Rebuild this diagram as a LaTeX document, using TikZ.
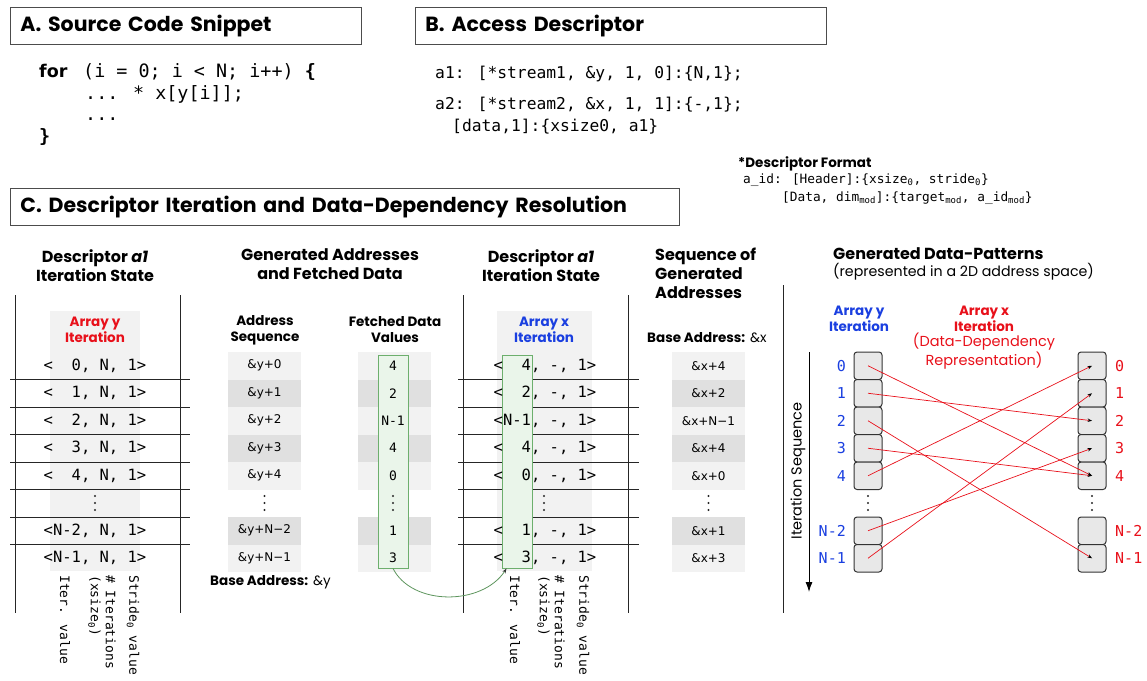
\documentclass[tikz,border=0pt]{standalone}
\usepackage{fontspec}
\setmainfont{Poppins}
\newfontfamily\mono{DejaVu Sans Mono}
\newfontfamily\dvs{DejaVu Sans}
\usetikzlibrary{arrows.meta}
\definecolor{lt}{HTML}{F2F2F2}
\definecolor{dk}{HTML}{E0E0E0}
\definecolor{gfill}{HTML}{EAF5EA}
\definecolor{gline}{HTML}{6DAF6D}
\definecolor{myred}{HTML}{E8101A}
\definecolor{myblue}{HTML}{1A3FE0}
\definecolor{cellg}{HTML}{E8E8E8}
\newcommand\fs[2]{\fontsize{#1}{#2}\selectfont}

\begin{document}
\begin{tikzpicture}[x=1pt,y=-1pt,
  titlebox/.style={draw=black!70, line width=0.8pt, fill=white, anchor=north west,
    minimum height=37pt, align=left, inner xsep=10pt, inner ysep=0pt,
    font={\fs{20.5}{23}\bfseries}},
  code/.style={font={\mono\fs{18.4}{21}}, inner sep=0, anchor=base west},
  desc/.style={font={\mono\fs{16.3}{19}}, inner sep=0, anchor=base west},
  fmt/.style={font={\mono\fs{12.8}{15}}, inner sep=0, anchor=base west},
  hd/.style={font={\fs{16}{19}\bfseries}, align=center, inner sep=0},
  sub/.style={font={\fs{13.5}{16}\bfseries}, align=center, inner sep=0},
  rowtxt/.style={font={\mono\fs{15.5}{18}}, inner sep=0},
  rot/.style={font={\mono\fs{13}{15}}, rotate=-90, anchor=west, inner sep=0, align=left},
  addr/.style={font={\dvs\fs{12}{14}}, minimum width=73pt, minimum height=27.5pt, inner sep=0},
  fetch/.style={font={\mono\fs{13}{15}}, minimum width=73pt, minimum height=27.5pt, inner sep=0},
  vdt/.pic={\foreach \d in {-7,0,7} \fill[black!85] (0,\d) circle (1.2);},
  tline/.style={draw=black!85, line width=0.9pt},
  greenbox/.style={draw=gline, line width=0.9pt, fill=gfill, minimum width=30pt, inner sep=0},
  pcell/.style={draw=black!80, line width=1pt, fill=cellg, rounded corners=3pt,
    minimum width=28pt, minimum height=27.5pt, inner sep=0},
  lab/.style={font={\mono\fs{15}{17}}, inner sep=0},
  dep/.style={draw=myred, line width=0.7pt, -{Stealth[length=4.5pt,width=3.5pt,color=black]}}
]
\path[use as bounding box] (0,0) rectangle (1147,680);

% ---------- A: source code ----------
\node[titlebox, minimum width=351pt, text width=331pt] (tA) at (10,7) {A. Source Code Snippet};
\node[code, font={\dvs\bfseries\fs{17.5}{20}}] (kfor) at (39,77) {for};
\node[code] (c1) at (83,77) {(i = 0; i < N; i++) \textbf{\{}};
\node[code] (c2) at (85,99) {... * x[y[i]];};
\node[code] (c3) at (85,120) {...};
\node[code] (c4) at (39,142) {\textbf{\}}};

% ---------- B: access descriptor ----------
\node[titlebox, minimum width=411pt, text width=391pt] (tB) at (415,7) {B. Access Descriptor};
\node[desc] (d1) at (435,78) {a1: [*stream1, \&y, 1, 0]:\{N,1\};};
\node[desc] (d2) at (435,109) {a2: [*stream2, \&x, 1, 1]:\{-,1\};};
\node[desc] (d3) at (452,131) {[data,1]:\{xsize0, a1\}};

\node[inner sep=0, anchor=base west, font={\fs{13.5}{16}\bfseries}] (fmth) at (738,167) {*Descriptor Format};
\node[fmt] (fmt1) at (743,183) {a\_id: [Header]:\{xsize\textsubscript{0}, stride\textsubscript{0}\}};
\node[fmt] (fmt2) at (782,201) {[Data, dim\textsubscript{mod}]:\{target\textsubscript{mod}, a\_id\textsubscript{mod}\}};

% ---------- C: iteration ----------
\node[titlebox, minimum width=669pt, text width=649pt] (tC) at (10,188) {C. Descriptor Iteration and Data-Dependency Resolution};

\node[hd] (h1) at (95,266) {Descriptor \textit{a1}\\Iteration State};
\node[hd] (h2) at (330,264) {Generated Addresses\\and Fetched Data};
\node[hd] (h3) at (541,266) {Descriptor \textit{a1}\\Iteration State};
\node[hd, align=left, anchor=west] (h4) at (655,273) {Sequence of\\Generated\\Addresses};
\node[hd, anchor=west] (h5) at (833,254) {Generated Data-Patterns};
\node[inner sep=0, anchor=west, font={\fs{14.2}{16}}] (h5s) at (833,272) {(represented in a 2D address space)};

% shaded columns of the two state tables
\fill[lt] (50,311) rectangle (140,571);
\fill[lt] (497,311) rectangle (592,571);

% address / data / address cells
\foreach \i/\t/\c in {0/{\&y+0}/lt,1/{\&y+1}/dk,2/{\&y+2}/lt,3/{\&y+3}/dk,4/{\&y+4}/lt,6/{\&y+N−2}/dk,7/{\&y+N−1}/lt}
  \node[addr, fill=\c] (ya\i) at (264.5,{365.75+27.5*\i}) {\t};
\foreach \i/\c in {0/lt,1/dk,2/lt,3/dk,4/lt,6/dk,7/lt}
  \fill[\c] (358,{352+27.5*\i}) rectangle (431,{379.5+27.5*\i});
\foreach \i/\t/\c in {0/{\&x+4}/lt,1/{\&x+2}/dk,2/{\&x+N−1}/lt,3/{\&x+4}/dk,4/{\&x+0}/lt,6/{\&x+1}/dk,7/{\&x+3}/lt}
  \node[addr, fill=\c] (xa\i) at (708.5,{365.75+27.5*\i}) {\t};
\pic at (264.5,503) {vdt};
\pic at (708.5,503) {vdt};

% table rules
\foreach \yy in {379.5,407,434.5,462,489.5,517,544.5} {
  \draw[tline] (10,\yy) -- (190,\yy);
  \draw[tline] (458,\yy) -- (639,\yy);
}
\draw[tline] (15,295) -- (15,613);
\draw[tline] (180,295) -- (180,613);
\draw[tline] (463,295) -- (463,613);
\draw[tline] (628,295) -- (628,613);

% highlighted data columns
\node[greenbox, minimum height=213pt] (fbox) at (393,461.5) {};
\node[greenbox, minimum height=213pt] (ibox) at (517,461.5) {};

% sub headers
\node[sub, text=myred] (ay1) at (95,330) {Array y\\Iteration};
\node[sub] (asq) at (265,330) {Address\\Sequence};
\node[sub] (fdv) at (395,330) {Fetched Data\\Values};
\node[sub, text=myblue] (ax1) at (544,330) {Array x\\Iteration};
\node[inner sep=0, anchor=west, font={\fs{13.5}{15}}] (basex) at (647,338) {\textbf{Base Address:} \&x};
\node[inner sep=0, anchor=west, font={\fs{13.5}{15}}] (basey) at (210,582) {\textbf{Base Address:} \&y};

% state rows, array y
\foreach \i/\t in {0/{<\ \ 0, N, 1>},1/{<\ \ 1, N, 1>},2/{<\ \ 2, N, 1>},3/{<\ \ 3, N, 1>},4/{<\ \ 4, N, 1>},6/{<N-2, N, 1>},7/{<N-1, N, 1>}}
  \node[rowtxt] (sy\i) at (95,{365.75+27.5*\i}) {\t};
\pic at (95,503) {vdt};

% state rows, array x
\foreach \i/\t in {0/{<\ \ 4, -, 1>},1/{<\ \ 2, -, 1>},2/{<N-1, -, 1>},3/{<\ \ 4, -, 1>},4/{<\ \ 0, -, 1>},6/{<\ \ 1, -, 1>},7/{<\ \ 3, -, 1>}}
  \node[rowtxt] (sx\i) at (545,{365.75+27.5*\i}) {\t};
\pic at (544,503) {vdt};

% fetched values
\foreach \i/\t in {0/4,1/2,2/N-1,3/4,4/0,6/1,7/3}
  \node[fetch] (fv\i) at (393,{365.75+27.5*\i}) {\t};
\pic at (393,503) {vdt};

% field captions
\node[rot] (cy1) at (65,575) {Iter. value};
\node[rot] (cy2) at (102,575) {\# Iterations\\(xsize\textsubscript{0})};
\node[rot] (cy3) at (133,575) {Stride\textsubscript{0} value};
\node[rot] (cx1) at (515,575) {Iter. value};
\node[rot] (cx2) at (551,575) {\# Iterations\\(xsize\textsubscript{0})};
\node[rot] (cx3) at (583,575) {Stride\textsubscript{0} value};

% fetched data drive the x iteration
\coordinate (fstart) at (fbox.south);
\coordinate (iend) at ([xshift=5pt]ibox.south west);
\draw[draw=gline!85!black, line width=0.8pt, -{Stealth[length=5pt,width=3.5pt,color=black!80]}]
  (fstart) .. controls (412,606) and (482,606) .. (iend);

% ---------- data patterns ----------
\draw[tline] (783,285) -- (783,613);
\coordinate (itop) at (809,352);
\coordinate (ibot) at (809,592);
\draw[line width=1pt, -{Latex[length=10pt,width=7pt]}] (itop) -- (ibot);
\node[rotate=90, inner sep=0, font={\fs{14.5}{16}}] (itseq) at (798,471) {Iteration Sequence};

\node[sub, text=myblue] (ay2) at (859,319) {Array y\\Iteration};
\node[sub, text=myred] (ax2) at (984,319) {Array x\\Iteration};
\node[inner sep=0, align=center, text=myred, font={\fs{14.5}{16}}] (ddr) at (984,351) {(Data-Dependency\\Representation)};

\foreach \i/\t in {0/0,1/1,2/2,3/3,4/4,6/N-2,7/N-1} {
  \node[pcell] (L\i) at (868,{365.75+27.5*\i}) {};
  \node[pcell] (R\i) at (1092,{365.75+27.5*\i}) {};
  \node[lab, text=myblue, anchor=east] (nl\i) at (846,{365.75+27.5*\i}) {\t};
  \node[lab, text=myred, anchor=west] (nr\i) at (1115,{365.75+27.5*\i}) {\t};
}
\pic at (868,503) {vdt};
\pic at (1092,503) {vdt};

\draw[dep] (L0.center) -- (R4.center);
\draw[dep] (L1.center) -- (R2.center);
\draw[dep] (L2.center) -- (R7.center);
\draw[dep] (L3.center) -- (R4.center);
\draw[dep] (L4.center) -- (R0.center);
\draw[dep] (L6.center) -- (R3.center);
\draw[dep] (L7.center) -- (R1.center);
\end{tikzpicture}
\end{document}
